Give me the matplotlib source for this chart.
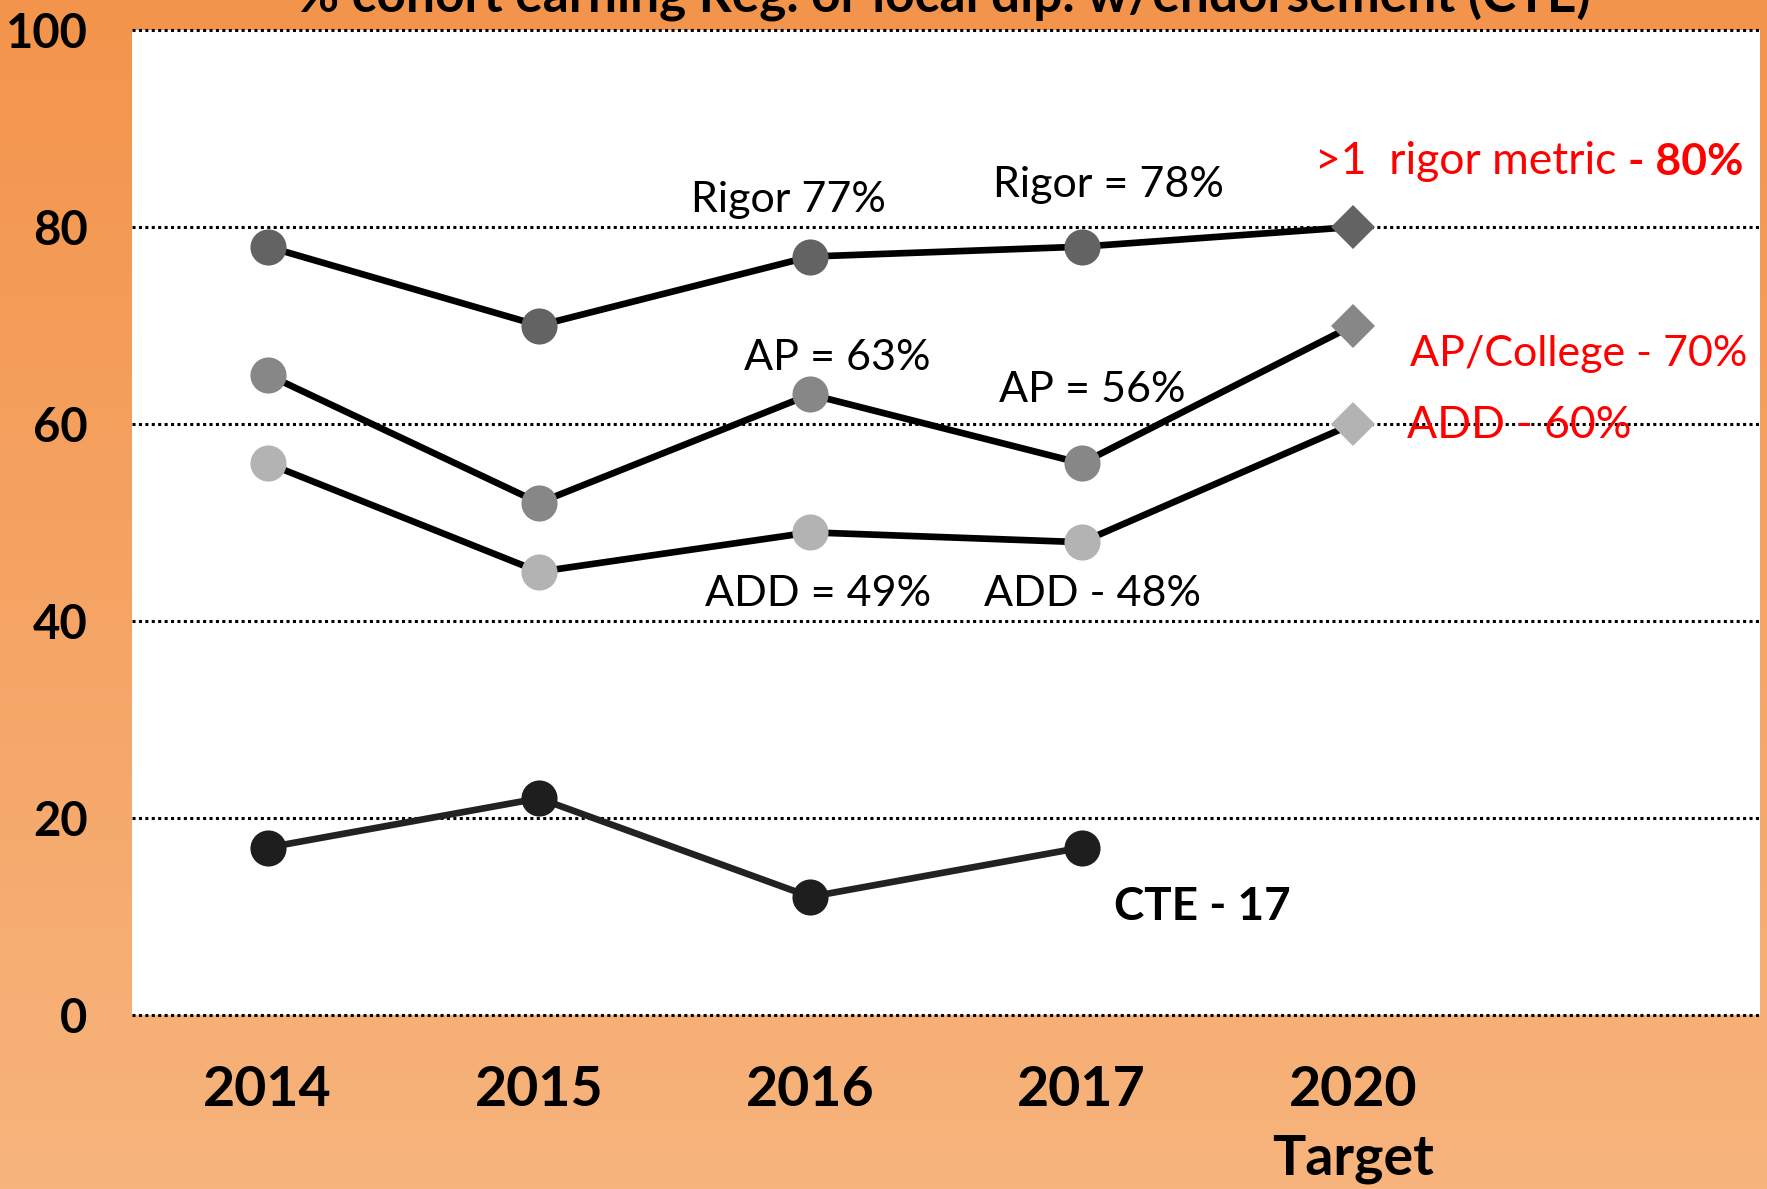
import numpy as np
import matplotlib
matplotlib.use("Agg")
import matplotlib.pyplot as plt

plt.rcParams['font.family'] = ['Lato', 'DejaVu Sans']

# data
years = ['2014', '2015', '2016', '2017', '2020\nTarget']
rigor = [78, 70, 77, 78, 80]
ap = [65, 52, 63, 56, 70]
add = [56, 45, 49, 48, 60]
cte = [17, 22, 12, 17]
title = "% cohort earning Reg. or local dip. w/endorsement (CTE)"

W, H = 1767, 1189
fig = plt.figure(figsize=(W/100, H/100), dpi=100)

# orange gradient background
bg = fig.add_axes([0, 0, 1, 1], zorder=-1)
top = np.array([243, 148, 76]) / 255
bot = np.array([247, 180, 124]) / 255
t = np.linspace(0, 1, 256)[:, None]
grad = top[None, :] * (1 - t) + bot[None, :] * t
bg.imshow(grad[:, None, :], aspect='auto', extent=[0, 1, 0, 1])
bg.axis('off')

ax = fig.add_axes([132/W, (H-1015)/H, (1760-132)/W, (1015-30)/H])
ax.set_facecolor('white')
ax.set_xlim(-0.5, 5.5)
ax.set_ylim(0, 100)
for s in ax.spines.values():
    s.set_visible(False)

yt = list(range(0, 101, 20))
for v in yt:
    ax.axhline(v, color='black', linestyle=(0, (1, 1.1)), linewidth=2.2, clip_on=False, zorder=1)
ax.set_yticks(yt)
ax.set_yticklabels([str(v) for v in yt], fontsize=34, fontweight='bold')
x = np.arange(len(years))
ax.set_xticks(x)
ax.set_xticklabels(years, fontsize=40, fontweight='bold')
for lbl in ax.get_xticklabels():
    lbl.set_linespacing(1.45)
ax.tick_params(axis='x', length=0, pad=36)
ax.tick_params(axis='y', length=0, pad=32)

series = [(rigor, '#636363'), (ap, '#878787'), (add, '#b3b3b3')]
for vals, mc in series:
    ax.plot(x[:len(vals)], vals, color='black', lw=4.8, zorder=3)
    ax.plot(x[:4], vals[:4], 'o', color=mc, ms=26, mew=0, zorder=4)
    ax.plot(x[4], vals[4], 'D', color=mc, ms=22, mew=0, zorder=4)
ax.plot(x[:len(cte)], cte, color='#222222', lw=4.8, zorder=3)
ax.plot(x[:len(cte)], cte, 'o', color='#1e1e1e', ms=26, mew=0, zorder=4)

fs = 31
ax.text(1.92, 81.5, 'Rigor 77%', fontsize=fs, ha='center', va='baseline')
ax.text(3.1, 83, 'Rigor = 78%', fontsize=fs, ha='center', va='baseline')
ax.text(2.1, 65.5, 'AP = 63%', fontsize=fs, ha='center', va='baseline')
ax.text(3.04, 62.2, 'AP = 56%', fontsize=fs, ha='center', va='baseline')
ax.text(2.03, 41.5, 'ADD = 49%', fontsize=fs, ha='center', va='baseline')
ax.text(3.04, 41.5, 'ADD - 48%', fontsize=fs, ha='center', va='baseline')
ax.text(3.12, 9.6, 'CTE - 17', fontsize=33, fontweight='bold', ha='left', va='baseline')

red = '#ff0000'
b80 = ax.text(5.44, 84.6, '- 80%', fontsize=32, fontweight='bold', color=red, ha='right', va='bottom')
ax.annotate('>1  rigor metric ', xy=(0, 0), xycoords=b80, fontsize=32, color=red, ha='right', va='bottom')
ax.text(4.21, 65.9, 'AP/College - 70%', fontsize=fs, color=red, ha='left', va='baseline')
ax.text(4.2, 58.6, 'ADD - 60%', fontsize=32, color=red, ha='left', va='baseline', zorder=5)

fig.text(944/W, 1 - 12/H, title, fontsize=37, fontweight='bold', ha='center', va='baseline')

fig.savefig('out.png', dpi=100)
